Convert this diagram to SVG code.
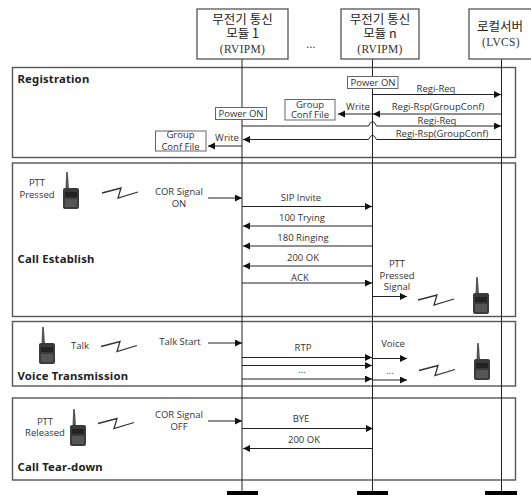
<svg xmlns="http://www.w3.org/2000/svg" width="531" height="495" viewBox="0 0 531 495">
<style>
text{font-family:"Open Sans","Noto Sans",sans-serif;font-size:9.5px;fill:#333;text-anchor:middle}
.h{font-family:"Noto Sans CJK KR",sans-serif;font-size:12.5px;fill:#222}
.s{font-family:"Liberation Serif",serif;font-size:11.5px;fill:#333;letter-spacing:.3px}
.t{font-family:"Noto Sans","Open Sans",sans-serif;font-size:11.3px;font-weight:700;fill:#222;text-anchor:start;letter-spacing:.2px}
.b{fill:#fff;stroke:#555;stroke-width:1.3}
.g{fill:#fff;stroke:#555;stroke-width:1.4}
.f{fill:#fff;stroke:#666;stroke-width:1}
.l{stroke:#222;stroke-width:1;fill:none}
.a{stroke:#222;stroke-width:1;fill:none;marker-end:url(#m)}
</style>
<defs>
<marker id="m" markerUnits="userSpaceOnUse" markerWidth="8" markerHeight="8" refX="7" refY="3.500" orient="auto"><path d="M0 0L7 3.500L0 7Z" fill="#111"/></marker>
<g id="radio"><path d="M-0.800 0L0.800 0L2 17H-1.500Z" fill="#555"/><rect x="-4" y="16" width="16" height="21" rx="2" fill="#3a3a3a"/><rect x="-2" y="20" width="12" height="5" fill="#222"/><rect x="-2" y="27" width="12" height="8" fill="#555"/></g>
<path id="bolt" d="M0 6L19 1L16 11L36 5" fill="none" stroke="#333" stroke-width="1.300"/>
</defs>
<g id="sections">
<rect class="g" x="12.500" y="67.500" width="503" height="90"/>
<rect class="g" x="12.500" y="163" width="503" height="153.500"/>
<rect class="g" x="12.500" y="321.500" width="503" height="64.500"/>
<rect class="g" x="12.500" y="398" width="503" height="82"/>
<text class="t" x="17.500" y="83">Registration</text>
<text class="t" x="17.500" y="262.500">Call Establish</text>
<text class="t" x="17.500" y="380">Voice Transmission</text>
<text class="t" x="17.500" y="471">Call Tear-down</text>
</g>
<g id="connectors">
<path class="l" d="M242 59V491M372.500 59V491M501.500 54V491"/>
<path d="M227 491h31v4h-31zM357 491h31v4h-31zM485 491h32v4h-32z" fill="#000"/>
<path class="a" d="M373 94.500H501"/>
<path class="a" d="M501 114H373"/>
<path class="a" d="M372 114H338"/>
<path class="a" d="M242 126H368.500Q372.500 117 376.500 126H501"/>
<path class="a" d="M501 139.500H376.500Q372.500 131 368.500 139.500H243"/>
<path class="a" d="M242 146H208"/>
<path class="a" d="M208 198H242"/>
<path class="a" d="M242 206.500H372"/>
<path class="a" d="M372 226H243"/>
<path class="a" d="M372 246H243"/>
<path class="a" d="M372 266H243"/>
<path class="a" d="M242 283H372"/>
<path class="a" d="M373 296.500H407"/>
<path class="a" d="M208 343H242"/>
<path class="a" d="M242 357.500H372"/>
<path class="a" d="M242 365.500H372"/>
<path class="a" d="M242 379H372"/>
<path class="a" d="M373 358.500H407"/>
<path class="a" d="M373 380H407"/>
<path class="a" d="M208 421H242"/>
<path class="a" d="M242 428.500H373"/>
<path class="a" d="M373 448.500H243"/>
</g>
<g id="node-1"><rect class="b" x="197" y="9" width="91" height="50"/><text class="h" x="242.500" y="24">무전기 통신</text><text class="h" x="242.500" y="38">모듈 1</text><text class="s" x="242.500" y="53">(RVIPM)</text></g>
<text x="311" y="48" class="s">...</text>
<g id="node-n"><rect class="b" x="341" y="9" width="78" height="50"/><text class="h" x="380" y="24">무전기 통신</text><text class="h" x="380" y="38">모듈 n</text><text class="s" x="380" y="53">(RVIPM)</text></g>
<g id="node-lvcs"><rect class="b" x="469" y="9" width="70" height="50"/><text class="h" x="500" y="31">로컬서버</text><text class="s" x="501" y="46">(LVCS)</text></g>
<g id="power-n"><rect class="f" x="347.500" y="76.500" width="50.500" height="12"/><text x="373" y="86">Power ON</text></g>
<g id="power-1"><rect class="f" x="215.500" y="107.500" width="51" height="12"/><text x="241" y="117">Power ON</text></g>
<g id="conf-n"><rect class="f" x="285" y="99.500" width="50" height="20.500"/><text x="310" y="107.500">Group</text><text x="310" y="118">Conf File</text></g>
<g id="conf-1"><rect class="f" x="155.500" y="131" width="50.500" height="20"/><text x="180.500" y="138">Group</text><text x="180.500" y="149.500">Conf File</text></g>
<g id="labels">
<text x="436" y="92">Regi-Req</text><text x="358" y="110">Write</text><text x="438" y="110">Regi-Rsp(GroupConf)</text><text x="437" y="124">Regi-Req</text><text x="227" y="141">Write</text><text x="442" y="137">Regi-Rsp(GroupConf)</text>
<text x="37" y="186">PTT</text><text x="37" y="198">Pressed</text><text x="179" y="195">COR Signal</text><text x="179" y="207">ON</text>
<text x="301" y="201">SIP Invite</text><text x="302" y="221">100 Trying</text><text x="303" y="241">180 Ringing</text><text x="303" y="261">200 OK</text><text x="300" y="281">ACK</text>
<text x="397" y="267">PTT</text><text x="397" y="278.500">Pressed</text><text x="397" y="290">Signal</text>
<text x="80" y="349">Talk</text><text x="180" y="345">Talk Start</text><text x="303" y="351">RTP</text><text x="302" y="373">...</text><text x="393" y="347">Voice</text><text x="390" y="374">...</text>
<text x="45" y="425">PTT</text><text x="45" y="436">Released</text><text x="179" y="418">COR Signal</text><text x="179" y="430">OFF</text><text x="301" y="422">BYE</text><text x="304" y="443">200 OK</text>
</g>
<g id="radios">
<use href="#radio" x="67" y="172"/><use href="#radio" x="477" y="277"/><use href="#radio" x="43" y="327"/><use href="#radio" x="478" y="343"/><use href="#radio" x="74" y="409"/>
<use href="#bolt" x="102" y="187"/><use href="#bolt" x="418" y="294"/><use href="#bolt" x="101" y="340.500"/><use href="#bolt" x="419" y="364.500"/><use href="#bolt" x="98" y="417.500"/>
</g>
</svg>
